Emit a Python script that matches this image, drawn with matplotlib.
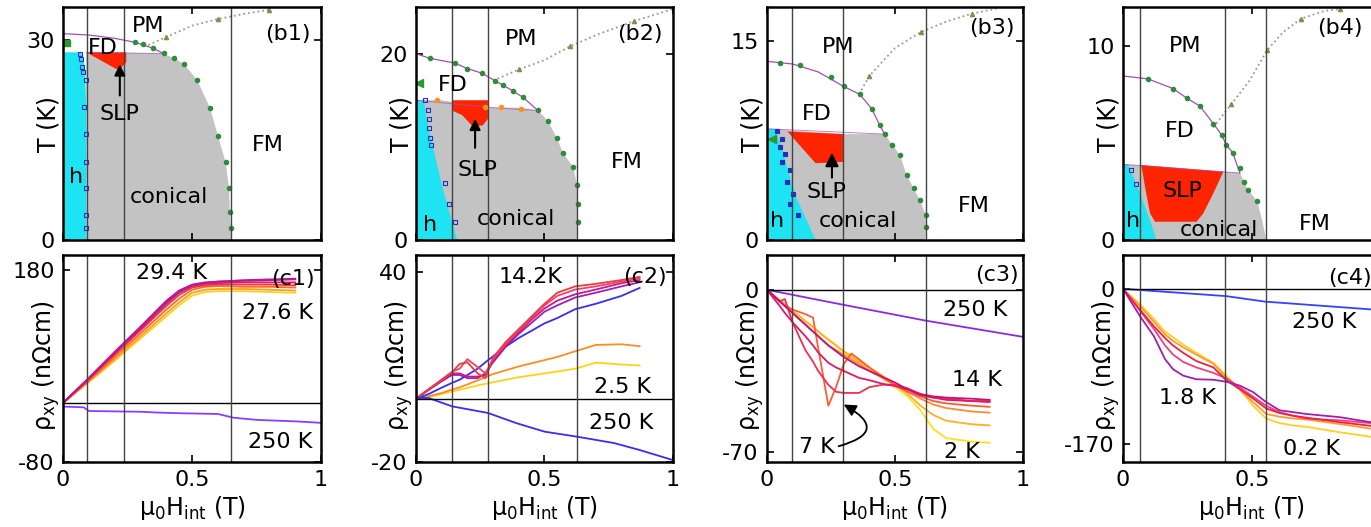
import matplotlib.pyplot as plt

plt.rcParams['font.family'] = ['DejaVu Sans']
plt.rcParams['font.size'] = 16
plt.rcParams['mathtext.default'] = 'regular'
plt.rcParams['axes.linewidth'] = 1.8

CYAN = '#1ee3f2'
GRAY = '#c3c3c3'
RED = '#ff2400'
GREEN = '#2f8c3c'
LINE = '#a050b0'
DOT = '#9c9c88'
VLINE = '#444444'

# ---------------- phase diagrams (b1..b4) ----------------
# b1
b1_cone_x = [0.09, 0.39, 0.43, 0.47, 0.52, 0.57, 0.6, 0.63, 0.643, 0.647, 0.65, 0.65]
b1_cone_T = [28.2, 28.0, 27.3, 26.4, 24, 19.8, 15.7, 11.7, 7.8, 4, 1.8, 0]
b1_h_x = [0, 0, 0.07, 0.085, 0.09, 0.09]
b1_h_T = [0, 28.2, 28.2, 26, 20, 0]
b1_slp_x = [0.09, 0.245, 0.245, 0.215]
b1_slp_T = [28.2, 28.2, 26.7, 25.5]
b1_fd_x = [0, 0.1, 0.2, 0.28, 0.35, 0.39]
b1_fd_T = [31.0, 30.8, 30.3, 29.7, 28.8, 28.0]
b1_low_x = [0.09, 0.39]
b1_low_T = [28.2, 28.0]
b1_dot_x = [0.33, 0.4, 0.5, 0.6, 0.705, 0.8]
b1_dot_T = [29.3, 30.5, 32.2, 33.2, 34.0, 34.6]
b1_grn_x = [0.28, 0.31, 0.35, 0.39, 0.43, 0.47, 0.52, 0.57, 0.6, 0.63, 0.643, 0.647, 0.65]
b1_grn_T = [29.7, 29.4, 28.9, 28.1, 27.3, 26.4, 24, 19.8, 15.7, 11.7, 7.8, 4.2, 1.8]
b1_sq_x = [0.066, 0.07, 0.073, 0.076, 0.087, 0.083, 0.087, 0.087, 0.087, 0.087, 0.087]
b1_sq_T = [28, 27.2, 26, 25.2, 24, 20, 16, 11.7, 7.8, 3.8, 1.8]
b1_vl = [0.093, 0.237, 0.65]

# b2
b2_cone_x = [0, 0.1, 0.3, 0.405, 0.455, 0.474, 0.513, 0.547, 0.573, 0.612, 0.627, 0.63, 0.63]
b2_cone_T = [15, 15, 14.2, 14.2, 14, 13.9, 12.8, 11, 9.3, 7.8, 5.9, 3.9, 0]
b2_h_x = [0, 0, 0.03, 0.045, 0.07, 0.1, 0.13, 0.16]
b2_h_T = [0, 15, 15, 12.5, 9.5, 6, 3, 0]
b2_slp_x = [0.14, 0.28, 0.28, 0.26, 0.22, 0.18, 0.14]
b2_slp_T = [15, 15, 13, 12.3, 12.2, 13.4, 13.9]
b2_fd_x = [0, 0.054, 0.15, 0.2, 0.257, 0.307, 0.34, 0.377, 0.417, 0.474]
b2_fd_T = [20, 19.5, 19, 18.4, 17.9, 17.1, 16.6, 16, 15.3, 13.9]
b2_low_x = [0, 0.3, 0.474]
b2_low_T = [15, 14.2, 13.9]
b2_dot_x = [0.3, 0.4, 0.5, 0.6, 0.71, 0.85, 1.0]
b2_dot_T = [17.1, 18.3, 19.3, 20.8, 22.1, 23.5, 24.8]
b2_grn_x = [0.054, 0.15, 0.2, 0.257, 0.307, 0.34, 0.377, 0.417, 0.474, 0.513, 0.547, 0.573, 0.612, 0.627, 0.63, 0.63]
b2_grn_T = [19.5, 19, 18.4, 17.9, 17.1, 16.6, 16, 15.3, 13.9, 12.8, 11, 9.3, 7.8, 5.9, 3.9, 1.9]
b2_org_x = [0.08, 0.27, 0.33, 0.41]
b2_org_T = [15, 14.3, 14.3, 14.1]
b2_sq_x = [0.035, 0.047, 0.05, 0.052, 0.055, 0.06, 0.113, 0.13, 0.152]
b2_sq_T = [15, 13.9, 13, 12, 11, 10.2, 6.1, 3.9, 1.9]
b2_vl = [0.14, 0.28, 0.627]

# b3
b3_cone_x = [0, 0.3, 0.46, 0.52, 0.546, 0.598, 0.62, 0.62]
b3_cone_T = [8.4, 8.0, 8.0, 6.4, 4.9, 3.0, 1.9, 0]
b3_h_x = [0, 0, 0.03, 0.058, 0.083, 0.117, 0.155, 0.19]
b3_h_T = [0, 8.4, 8.4, 7.0, 5.2, 3.1, 1.5, 0]
b3_slp_x = [0.08, 0.3, 0.3, 0.19]
b3_slp_T = [8.2, 8.0, 5.9, 5.8]
b3_fd_x = [0, 0.1, 0.2, 0.3, 0.363, 0.41, 0.44, 0.46]
b3_fd_T = [13.5, 13.3, 12.7, 11.6, 11, 9.9, 8.7, 8.0]
b3_low_x = [0, 0.46]
b3_low_T = [8.4, 8.0]
b3_dot_x = [0.36, 0.4, 0.5, 0.6, 0.7, 0.8, 0.9]
b3_dot_T = [11, 12.4, 14.5, 15.7, 16.5, 17.1, 17.5]
b3_grn_x = [0.05, 0.13, 0.25, 0.3, 0.363, 0.41, 0.44, 0.46, 0.49, 0.52, 0.546, 0.575, 0.598, 0.62, 0.62]
b3_grn_T = [13.4, 13.2, 12.3, 11.6, 11, 9.9, 8.7, 8.0, 7.2, 6.4, 4.9, 3.9, 3.0, 1.9, 1.0]
b3_sq_x = [0.04, 0.06, 0.05, 0.07, 0.06, 0.09, 0.08, 0.1, 0.09, 0.12]
b3_sq_T = [8.2, 7.6, 7.0, 6.5, 5.9, 5.3, 4.4, 3.5, 2.7, 1.9]
b3_vl = [0.098, 0.297, 0.62]

# b4
b4_cone_x = [0, 0.453, 0.484, 0.52, 0.54, 0.555]
b4_cone_T = [3.9, 3.45, 2.6, 2.0, 1.0, 0]
b4_h_x = [0, 0, 0.02, 0.06, 0.1, 0.13]
b4_h_T = [0, 3.9, 3.9, 2.6, 1.2, 0]
b4_slp_x = [0.066, 0.389, 0.35, 0.311, 0.285, 0.124, 0.105, 0.085, 0.072]
b4_slp_T = [3.87, 3.52, 2.4, 1.37, 0.94, 0.94, 1.37, 2.75, 3.8]
b4_fd_x = [0, 0.097, 0.194, 0.248, 0.298, 0.35, 0.383, 0.40, 0.425, 0.453]
b4_fd_T = [8.45, 8.3, 7.8, 7.3, 6.9, 6.0, 5.4, 4.9, 4.5, 3.45]
b4_low_x = [0, 0.453]
b4_low_T = [3.9, 3.45]
b4_dot_x = [0.35, 0.42, 0.49, 0.56, 0.62, 0.69, 0.78, 0.84]
b4_dot_T = [5.8, 7.0, 8.2, 9.8, 10.7, 11.4, 11.8, 11.9]
b4_grn_x = [0.097, 0.194, 0.248, 0.298, 0.35, 0.383, 0.40, 0.425, 0.453, 0.47, 0.484, 0.52]
b4_grn_T = [8.3, 7.8, 7.3, 6.9, 6.0, 5.4, 4.9, 4.5, 3.7, 3.0, 2.6, 2.0]
b4_sq_x = [0.03, 0.05]
b4_sq_T = [3.6, 2.9]
b4_vl = [0.066, 0.395, 0.554]

# ---------------- Hall resistivity (c1..c4) ----------------
c1_x = [0, 0.1, 0.2, 0.3, 0.4, 0.45, 0.5, 0.55, 0.6, 0.7, 0.8, 0.9]
c1_294 = [0, 34, 69, 103, 138, 152, 160, 163, 164, 165, 166, 167]
c1_292 = [0, 33, 68, 102, 136, 150, 159, 162, 164, 166, 167, 168]
c1_290 = [0, 33, 67, 100, 134, 149, 158, 161, 162, 163, 163, 163]
c1_286 = [0, 32, 65, 98, 131, 146, 156, 159, 160, 160, 160, 159]
c1_282 = [0, 30, 62, 94, 126, 141, 153, 157, 158, 157, 157, 156]
c1_279 = [0, 29, 59, 90, 121, 136, 149, 153, 154, 154, 153, 152]
c1_276 = [0, 28, 57, 87, 117, 132, 145, 150, 151, 151, 150, 149]
c1_250_x = [0, 0.08, 0.1, 0.3, 0.36, 0.45, 0.6, 0.66, 0.75, 0.9, 1.0]
c1_250 = [-5, -6, -11, -12, -13, -14, -15, -20, -23, -25, -27]

c2_x = [0, 0.05, 0.1, 0.14, 0.17, 0.2, 0.24, 0.27, 0.3, 0.35, 0.4, 0.45, 0.5, 0.55, 0.62, 0.7, 0.8, 0.87]
c2_142 = [0, 3, 6, 8.3, 11, 11.5, 8, 6.5, 13, 18, 22, 26, 30, 33.5, 35.5, 36.3, 37.5, 38.5]
c2_13 = [0, 3, 6, 8.5, 9.5, 12.5, 10, 8, 12.5, 17.5, 21.5, 25.5, 29.5, 32.5, 34.5, 35.5, 37, 38]
c2_12 = [0, 3, 5.8, 8, 8, 7, 7, 7.5, 12, 17, 21, 25, 28.5, 31, 33, 34.5, 36.5, 37.5]
c2_11 = [0, 2.8, 5.5, 7.5, 7.5, 6.5, 6.5, 8, 11.5, 16.5, 20.5, 24, 27.5, 29.5, 32, 33.5, 35.5, 36.8]
c2_hi = [0, 1.5, 3.5, 5, 6, 7.5, 9.5, 11.5, 13.4, 16.5, 19.2, 21.5, 23.8, 25.5, 28.3, 30, 32.5, 35]
c2_5 = [0, 0.8, 1.8, 2.9, 3.6, 4.5, 5.8, 6.8, 7.8, 9, 10.2, 11.2, 12.2, 13.2, 15, 17, 17.2, 16.6]
c2_25 = [0, 0.5, 1.5, 2.3, 2.8, 3.4, 4.2, 4.7, 5.2, 6, 6.8, 7.4, 8, 8.6, 9.5, 11.4, 10.8, 10.5]
c2_250_x = [0, 0.05, 0.14, 0.28, 0.39, 0.5, 0.627, 0.77, 0.87, 1.0]
c2_250 = [0.3, 0.2, -2.4, -4.5, -7.7, -10.4, -12, -14, -16.2, -19.4]

c3_x = [0, 0.05, 0.07, 0.1, 0.15, 0.18, 0.2, 0.24, 0.27, 0.3, 0.33, 0.36, 0.4, 0.45, 0.5, 0.55, 0.6, 0.65, 0.7, 0.8, 0.87]
c3_2 = [0, -4.5, -6.3, -9, -13.5, -16, -18, -21.5, -24, -27, -29, -31, -34, -38, -42, -46, -52, -60, -64, -65.5, -66]
c3_4 = [0, -4.5, -6.2, -9, -13.5, -16, -18, -21.5, -24, -26.5, -28.5, -31, -33.5, -37, -41, -45, -50, -54, -56.5, -58, -58.5]
c3_6 = [0, -5, -7, -10, -15, -18, -20, -24, -26, -28, -30, -32, -35, -38, -41, -44, -47, -49.5, -51, -52.5, -53]
c3_7 = [0, -5, -6.8, -8.5, -10.5, -12, -25, -50, -42, -32, -27.5, -30, -33.5, -37.5, -41, -44, -46, -48, -49, -50, -50.5]
c3_8 = [0, -5, -4, -14, -26, -31, -35, -41, -44, -44.5, -44.5, -44.5, -42, -41, -41, -42.5, -45, -46.5, -47, -48, -48.5]
c3_10 = [0, -7, -10, -14, -20, -24, -27, -31.5, -33.5, -35, -36.5, -38, -39, -40.5, -41.5, -43, -45.5, -46.5, -47.5, -48, -48]
c3_14 = [0, -5, -7, -10, -15, -18, -20, -24, -26.5, -29, -31, -33, -35, -37.5, -40, -43, -45, -46, -46.5, -47, -47.5]
c3_250_x = [0, 0.3, 0.62, 1.0]
c3_250 = [0, -6.5, -13.3, -20.3]

c4_x = [0, 0.066, 0.12, 0.163, 0.194, 0.233, 0.284, 0.35, 0.40, 0.453, 0.504, 0.555, 0.607, 0.66, 0.71, 0.84, 0.96]
c4_18 = [0, -30, -52, -77, -88, -95, -99, -99.5, -101.7, -106, -113, -124, -133, -135, -137, -140.5, -146]
c4_12 = [0, -23, -41, -54, -62, -70, -79, -86, -100, -110, -120, -131, -136, -139, -141, -146, -150]
c4_08 = [0, -24, -44, -62, -72, -80, -86, -92, -98, -108, -118, -128, -135, -139, -142, -144, -147]
c4_04 = [0, -19, -36, -50, -57, -64, -72, -82, -97, -110, -124, -137, -140, -142, -143, -148, -153]
c4_02 = [0, -17, -33, -47, -53, -61, -70, -81, -95, -110, -128, -142, -147, -149.6, -151, -157, -162]
c4_250_x = [0, 0.4, 0.49, 0.55, 0.96, 1.0]
c4_250 = [0, -8, -11.6, -14, -22.5, -23.5]

# ---------------- layout ----------------
fig = plt.figure(figsize=(13.71, 5.27), dpi=100)
lefts = [0.046, 0.3034, 0.5594, 0.8191]
widths = [0.1882, 0.1875, 0.1867, 0.1882]


def style(ax, xlim, ylim, yticks, bottom, xlabels=('0', '0.5', '1')):
    ax.set_xlim(*xlim)
    ax.set_ylim(*ylim)
    ax.set_xticks([0, 0.5, 1])
    ax.set_yticks(yticks)
    ax.tick_params(direction='in', top=True, right=True, length=5, width=1.2,
                   labelsize=16, pad=6)
    if bottom:
        ax.set_xticklabels(list(xlabels))
        ax.set_xlabel(r'$\mathregular{\mu_0H_{int}}$ (T)', fontsize=17)
        ax.xaxis.set_label_coords(0.5, -0.155)
    else:
        ax.set_xticklabels([])
    ax.set_yticklabels([str(t) for t in yticks])


def phase(ax, cone_x, cone_T, h_x, h_T, slp_x, slp_T, fd_x, fd_T, low_x, low_T,
          dot_x, dot_T, grn_x, grn_T, sq_x, sq_T, vl, ymax, ytop, sq_fill=False):
    ax.fill(cone_x + [cone_x[0]], cone_T + [0], color=GRAY, lw=0)
    ax.fill(h_x, h_T, color=CYAN, lw=0)
    ax.fill(slp_x, slp_T, color=RED, lw=0)
    ax.plot(fd_x, fd_T, color=LINE, lw=0.9)
    ax.plot(low_x, low_T, color=LINE, lw=0.7, alpha=0.7)
    ax.plot(dot_x, dot_T, ls=':', color=DOT, lw=1.3)
    ax.plot(dot_x[1::2], dot_T[1::2], '^', ms=3, color='#8a8a50', lw=0)
    ax.plot(grn_x, grn_T, 'o', ms=3, color=GREEN, lw=0)
    ax.plot(sq_x, sq_T, 's', ms=3, mfc='#2030c0' if sq_fill else 'none',
            mec='#2030c0', mew=0.8, lw=0)
    for v in vl:
        ax.axvline(v, color=VLINE, lw=1.0)
    style(ax, (0, 1), (0, ymax), [0, ytop], False)
    ax.set_ylabel('T (K)', fontsize=17)
    ax.yaxis.set_label_coords(-0.01, 0.5)


def hall(ax, curves, vl, ylim, yticks, xlabels=('0', '0.5', '1')):
    for x, y, c in curves:
        ax.plot(x, y, color=c, lw=1.3)
    ax.axhline(0, color='k', lw=1.0)
    for v in vl:
        ax.axvline(v, color=VLINE, lw=1.0)
    style(ax, (0, 1), ylim, yticks, True, xlabels)
    ax.set_ylabel(r'$\mathregular{\rho_{xy}}$ (n$\Omega$cm)', fontsize=17)
    ax.yaxis.set_label_coords(-0.005, 0.465)


top = [fig.add_axes([lefts[i], 0.5446, widths[i], 0.442]) for i in range(4)]
bot = [fig.add_axes([lefts[i], 0.1233, widths[i], 0.3928]) for i in range(4)]

# b1
ax = top[0]
phase(ax, b1_cone_x, b1_cone_T, b1_h_x, b1_h_T, b1_slp_x, b1_slp_T, b1_fd_x, b1_fd_T,
      b1_low_x, b1_low_T, b1_dot_x, b1_dot_T, b1_grn_x, b1_grn_T, b1_sq_x, b1_sq_T,
      b1_vl, 35, 30)
ax.plot([0.015], [29.6], 's', ms=5, color='#2a9a30')
ax.text(0.33, 32.2, 'PM', ha='center', va='center')
ax.text(0.155, 28.9, 'FD', ha='center', va='center')
ax.text(0.22, 19, 'SLP', ha='center', va='center')
ax.annotate('', xy=(0.22, 26.8), xytext=(0.22, 21.3),
            arrowprops=dict(arrowstyle='-|>', color='k', lw=1.5, mutation_scale=16))
ax.text(0.05, 9.5, 'h', ha='center', va='center')
ax.text(0.41, 6.5, 'conical', ha='center', va='center')
ax.text(0.795, 14.2, 'FM', ha='center', va='center')
ax.text(0.87, 31, '(b1)', ha='center', va='center')

# b2
ax = top[1]
phase(ax, b2_cone_x, b2_cone_T, b2_h_x, b2_h_T, b2_slp_x, b2_slp_T, b2_fd_x, b2_fd_T,
      b2_low_x, b2_low_T, b2_dot_x, b2_dot_T, b2_grn_x, b2_grn_T, b2_sq_x, b2_sq_T,
      b2_vl, 25, 20)
ax.plot(b2_org_x, b2_org_T, 'o', ms=3, color='#ff9020', lw=0)
ax.plot([0.01], [16.8], '<', ms=6, color='#2a9a30')
ax.text(0.41, 21.6, 'PM', ha='center', va='center')
ax.text(0.145, 16.6, 'FD', ha='center', va='center')
ax.text(0.24, 7.5, 'SLP', ha='center', va='center')
ax.annotate('', xy=(0.23, 13.3), xytext=(0.23, 9.6),
            arrowprops=dict(arrowstyle='-|>', color='k', lw=1.5, mutation_scale=16))
ax.text(0.054, 1.6, 'h', ha='center', va='center')
ax.text(0.39, 2.3, 'conical', ha='center', va='center')
ax.text(0.82, 8.4, 'FM', ha='center', va='center')
ax.text(0.87, 22.1, '(b2)', ha='center', va='center')

# b3
ax = top[2]
phase(ax, b3_cone_x, b3_cone_T, b3_h_x, b3_h_T, b3_slp_x, b3_slp_T, b3_fd_x, b3_fd_T,
      b3_low_x, b3_low_T, b3_dot_x, b3_dot_T, b3_grn_x, b3_grn_T, b3_sq_x, b3_sq_T,
      b3_vl, 17.6, 15, sq_fill=True)
ax.plot([0.02], [7.6], '<', ms=6, color='#2a9a30')
ax.text(0.28, 14.6, 'PM', ha='center', va='center')
ax.text(0.195, 9.5, 'FD', ha='center', va='center')
ax.text(0.234, 3.6, 'SLP', ha='center', va='center')
ax.annotate('', xy=(0.254, 6.8), xytext=(0.254, 4.5),
            arrowprops=dict(arrowstyle='-|>', color='k', lw=1.5, mutation_scale=20))
ax.text(0.04, 1.4, 'h', ha='center', va='center')
ax.text(0.356, 1.4, 'conical', ha='center', va='center')
ax.text(0.81, 2.6, 'FM', ha='center', va='center')
ax.text(0.88, 16.0, '(b3)', ha='center', va='center')

# b4
ax = top[3]
phase(ax, b4_cone_x, b4_cone_T, b4_h_x, b4_h_T, b4_slp_x, b4_slp_T, b4_fd_x, b4_fd_T,
      b4_low_x, b4_low_T, b4_dot_x, b4_dot_T, b4_grn_x, b4_grn_T, b4_sq_x, b4_sq_T,
      b4_vl, 12, 10)
ax.text(0.24, 10.0, 'PM', ha='center', va='center')
ax.text(0.22, 5.6, 'FD', ha='center', va='center')
ax.text(0.23, 2.5, 'SLP', ha='center', va='center')
ax.text(0.04, 1.0, 'h', ha='center', va='center')
ax.text(0.37, 0.5, 'conical', ha='center', va='center')
ax.text(0.745, 0.8, 'FM', ha='center', va='center')
ax.text(0.84, 10.9, '(b4)', ha='center', va='center')

# c1
ax = bot[0]
hall(ax, [(c1_x, c1_276, '#ffd21a'), (c1_x, c1_279, '#ffa020'), (c1_x, c1_282, '#ff6a2a'),
          (c1_x, c1_286, '#f03a3a'), (c1_x, c1_290, '#e0205e'), (c1_x, c1_292, '#a81fb0'),
          (c1_x, c1_294, '#c0168f'), (c1_250_x, c1_250, '#8a3cff')],
     b1_vl, (-80, 200), [-80, 180])
ax.text(0.42, 176, '29.4 K', ha='center', va='center')
ax.text(0.83, 122, '27.6 K', ha='center', va='center')
ax.text(0.84, -53, '250 K', ha='center', va='center')
ax.text(0.89, 168, '(c1)', ha='center', va='center')

# c2
ax = bot[1]
hall(ax, [(c2_x, c2_25, '#ffd21a'), (c2_x, c2_5, '#ff8c20'), (c2_x, c2_hi, '#3a2df0'),
          (c2_x, c2_11, '#a020b0'), (c2_x, c2_12, '#c8168c'), (c2_x, c2_13, '#f04070'),
          (c2_x, c2_142, '#f03a3a'), (c2_250_x, c2_250, '#3a2df0')],
     b2_vl, (-20, 45.4), [-20, 40])
ax.text(0.447, 38.4, '14.2K', ha='center', va='center')
ax.text(0.89, 38.4, '(c2)', ha='center', va='center')
ax.text(0.805, 3.8, '2.5 K', ha='center', va='center')
ax.text(0.80, -7.6, '250 K', ha='center', va='center')

# c3
ax = bot[2]
hall(ax, [(c3_x, c3_2, '#ffe020'), (c3_x, c3_4, '#ffb020'), (c3_x, c3_6, '#ff8a30'),
          (c3_x, c3_7, '#ff5a3a'), (c3_x, c3_8, '#f03050'), (c3_x, c3_10, '#e01a60'),
          (c3_x, c3_14, '#c8107a'), (c3_250_x, c3_250, '#8a2be2')],
     b3_vl, (-74.3, 15), [-70, 0])
ax.text(0.9, 6.5, '(c3)', ha='center', va='center')
ax.text(0.815, -8.7, '250 K', ha='center', va='center')
ax.text(0.82, -39, '14 K', ha='center', va='center')
ax.text(0.76, -70, '2 K', ha='center', va='center')
ax.text(0.195, -68, '7 K', ha='center', va='center')
ax.annotate('', xy=(0.30, -49.5), xytext=(0.28, -67.5),
            arrowprops=dict(arrowstyle='-|>', color='k', lw=1.3, mutation_scale=18,
                            connectionstyle='arc3,rad=1.2', shrinkA=0, shrinkB=0))

# c4 (the panel runs past the right edge of the figure, so its "1" is not shown)
ax = bot[3]
hall(ax, [(c4_x, c4_02, '#ffd020'), (c4_x, c4_04, '#ff9a30'), (c4_x, c4_08, '#f0407a'),
          (c4_x, c4_12, '#f02040'), (c4_x, c4_18, '#a020b0'), (c4_250_x, c4_250, '#3344ff')],
     b4_vl, (-189.6, 37), [-170, 0], xlabels=('0', '0.5', ''))
ax.text(0.88, 12, '(c4)', ha='center', va='center')
ax.text(0.78, -36, '250 K', ha='center', va='center')
ax.text(0.25, -119, '1.8 K', ha='center', va='center')
ax.text(0.73, -175, '0.2 K', ha='center', va='center')

fig.savefig('out.png', dpi=100)
